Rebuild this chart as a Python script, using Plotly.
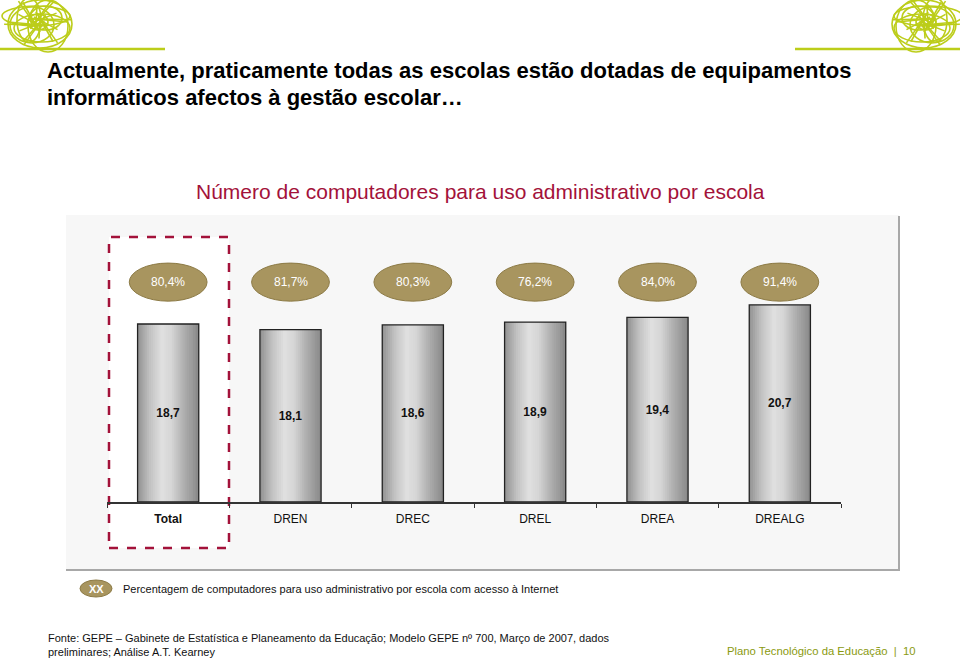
import math
import numpy as np
import plotly.graph_objects as go

# ---------------- data ----------------
categories = ["Total", "DREN", "DREC", "DREL", "DREA", "DREALG"]
computers_per_school = [18.7, 18.1, 18.6, 18.9, 19.4, 20.7]
pct_internet = [80.4, 81.7, 80.3, 76.2, 84.0, 91.4]

title_lines = ["Actualmente, praticamente todas as escolas estão dotadas de equipamentos",
               "informáticos afectos à gestão escolar…"]
subtitle = "Número de computadores para uso administrativo por escola"
legend_text = "Percentagem de computadores para uso administrativo por escola com acesso à Internet"
source_text = ("Fonte: GEPE – Gabinete de Estatística e Planeamento da Educação; Modelo GEPE nº 700, Março de 2007, dados"
               "<br>preliminares; Análise A.T. Kearney")
footer_right = "Plano Tecnológico da Educação  |  10"


def fmt(v, pct=False):
    s = f"{v:.1f}".replace(".", ",")
    return s + "%" if pct else s


W, H = 960, 662


def px(x):
    return x / W


def py(y):
    return 1 - y / H


FONT = "Liberation Sans, Arial, sans-serif"
GOLD = "#a8955f"
CRIMSON = "#a3123a"
LIME = "#bccd1a"

fig = go.Figure()

# gradient bars: narrow overlaid strips
N = 32
bar_w = 0.5
step = bar_w / N
t_pts = [0.0, 0.2, 0.4, 0.55, 0.75, 1.0]
g_pts = [145, 194, 224, 214, 176, 136]
for i in range(N):
    t = (i + 0.5) / N
    g = int(round(np.interp(t, t_pts, g_pts)))
    off = -bar_w / 2 + i * step
    w = min(step * 1.4, bar_w / 2 - off)
    fig.add_trace(go.Bar(
        x=categories, y=computers_per_school, width=w, offset=off,
        marker=dict(color=f"rgb({g},{g},{g})", line=dict(width=0)),
        hoverinfo="skip", showlegend=False,
    ))

# outline + value labels
fig.add_trace(go.Bar(
    x=categories, y=computers_per_school, width=bar_w,
    marker=dict(color="rgba(0,0,0,0)", line=dict(color="#222222", width=1.3)),
    text=[fmt(v) for v in computers_per_school],
    textposition="inside", insidetextanchor="middle",
    textfont=dict(family=FONT, size=12, color="#111111", weight="bold"),
    showlegend=False,
))

shapes = []
# panel background
shapes.append(dict(type="rect", xref="paper", yref="paper",
                   x0=px(66), x1=px(899), y0=py(569), y1=py(215),
                   fillcolor="#f7f7f7", line=dict(width=0), layer="below"))
shapes.append(dict(type="line", xref="paper", yref="paper",
                   x0=px(899), x1=px(899), y0=py(570), y1=py(216),
                   line=dict(color="#a8a8a8", width=2), layer="below"))
shapes.append(dict(type="line", xref="paper", yref="paper",
                   x0=px(66), x1=px(900), y0=py(570), y1=py(570),
                   line=dict(color="#a8a8a8", width=2), layer="below"))
# dashed highlight box around Total
shapes.append(dict(type="rect", xref="paper", yref="paper",
                   x0=px(109), x1=px(229), y0=py(548), y1=py(237),
                   fillcolor="#ffffff", line=dict(color=CRIMSON, width=2.5, dash="dash"),
                   layer="below"))

annotations = []
# ellipses with percentages
for i, p in enumerate(pct_internet):
    shapes.append(dict(type="circle", xref="x", yref="y",
                       x0=i - 0.318, x1=i + 0.318, y0=21.1, y1=25.1,
                       fillcolor=GOLD, line=dict(color="#8c7a45", width=1)))
    annotations.append(dict(x=i, y=23.1, xref="x", yref="y", text=fmt(p, True),
                            xanchor="center", yanchor="middle", showarrow=False,
                            font=dict(family=FONT, size=12, color="white")))

# legend
shapes.append(dict(type="circle", xref="paper", yref="paper",
                   x0=px(80), x1=px(112), y0=py(597), y1=py(580),
                   fillcolor=GOLD, line=dict(color="#8c7a45", width=1)))
annotations.append(dict(x=px(96), y=py(588.5), xref="paper", yref="paper", text="<b>XX</b>",
                        xanchor="center", yanchor="middle", showarrow=False,
                        font=dict(family=FONT, size=11, color="white")))
annotations.append(dict(x=px(121), y=py(588.5), xref="paper", yref="paper", text=legend_text,
                        xanchor="left", yanchor="middle", showarrow=False,
                        font=dict(family=FONT, size=11, color="#111111")))

# titles
annotations.append(dict(x=px(45), y=py(70), xref="paper", yref="paper", text=title_lines[0],
                        xanchor="left", yanchor="middle", showarrow=False,
                        font=dict(family=FONT, size=22, color="#000000", weight="bold")))
annotations.append(dict(x=px(45), y=py(98), xref="paper", yref="paper", text=title_lines[1],
                        xanchor="left", yanchor="middle", showarrow=False,
                        font=dict(family=FONT, size=22, color="#000000", weight="bold")))
annotations.append(dict(x=0.5, y=py(191), xref="paper", yref="paper", text=subtitle,
                        xanchor="center", yanchor="middle", showarrow=False,
                        font=dict(family=FONT, size=21, color=CRIMSON)))

# footer
annotations.append(dict(x=px(46), y=py(645), xref="paper", yref="paper", text=source_text,
                        xanchor="left", yanchor="middle", align="left", showarrow=False,
                        font=dict(family=FONT, size=11, color="#111111")))
annotations.append(dict(x=px(918), y=py(651), xref="paper", yref="paper", text=footer_right,
                        xanchor="right", yanchor="middle", showarrow=False,
                        font=dict(family=FONT, size=11.3, color="#8a9a10")))

# decorative logos (lime scribbles + rules)
shapes.append(dict(type="line", xref="paper", yref="paper", x0=px(0), x1=px(165),
                   y0=py(49), y1=py(49), line=dict(color=LIME, width=2.5)))
shapes.append(dict(type="line", xref="paper", yref="paper", x0=px(795), x1=px(960),
                   y0=py(49), y1=py(49), line=dict(color=LIME, width=2.5)))
scribble_arcs = [(32, 24, 2, 2), (22, 18, -6, 3), (16, 12, 8, -4), (28, 14, 4, 6),
                 (12, 22, -9, -2), (20, 26, 10, 4), (34, 10, -2, -6), (10, 8, 0, 0)]
for cx, cy, flip in [(38, 22, 1), (926, 22, -1)]:
    for k in range(18):
        a = k * math.pi / 9 + 0.13 * (k % 3)
        r = [30, 22, 34][k % 3]
        shapes.append(dict(type="line", xref="paper", yref="paper",
                           x0=px(cx - flip * 0.3 * r * math.cos(a + 0.4)),
                           y0=py(cy - 0.3 * r * math.sin(a + 0.4)),
                           x1=px(cx + flip * r * math.cos(a)), y1=py(cy + 0.75 * r * math.sin(a)),
                           line=dict(color=LIME, width=1.6)))
    for (rx, ry, dx, dy) in scribble_arcs:
        shapes.append(dict(type="circle", xref="paper", yref="paper",
                           x0=px(cx + flip * dx - rx), x1=px(cx + flip * dx + rx),
                           y0=py(cy + dy + ry), y1=py(cy + dy - ry),
                           line=dict(color=LIME, width=1.6)))

ticktext = ["<b>Total</b>"] + categories[1:]

fig.update_layout(
    width=W, height=H, margin=dict(l=0, r=0, t=0, b=0),
    paper_bgcolor="white", plot_bgcolor="rgba(0,0,0,0)",
    barmode="overlay", showlegend=False,
    shapes=shapes, annotations=annotations,
    xaxis=dict(domain=[px(107), px(841)], range=[-0.5, 5.5], type="category",
               categoryorder="array", categoryarray=categories,
               tickvals=categories, ticktext=ticktext,
               showline=True, linecolor="#333333", linewidth=1.5,
               ticks="outside", tickson="boundaries", ticklen=4, tickcolor="#333333",
               tickfont=dict(family=FONT, size=12, color="#111111"),
               ticklabelstandoff=5,
               showgrid=False, zeroline=False, fixedrange=True),
    yaxis=dict(domain=[py(502), py(215)], range=[0, 30.15], visible=False,
               showgrid=False, zeroline=False, fixedrange=True),
)

fig.write_html("out.html", config={"displayModeBar": False},
               post_script="document.body.style.margin='0';document.body.style.padding='0';"
                           "document.documentElement.style.overflow='hidden';")
